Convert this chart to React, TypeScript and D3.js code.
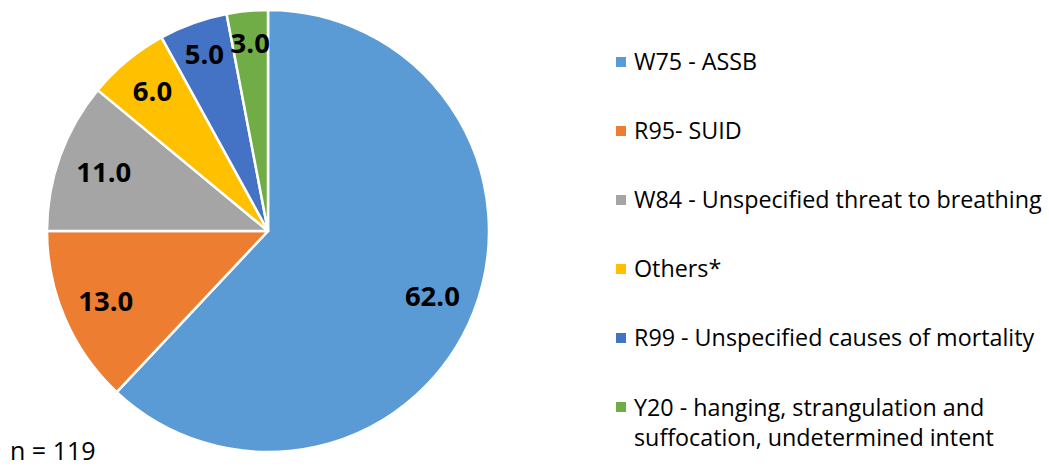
import React from 'react';
import * as d3 from 'd3';

const categories = [
  'W75 - ASSB',
  'R95- SUID',
  'W84 - Unspecified threat to breathing',
  'Others*',
  'R99 - Unspecified causes of mortality',
  'Y20 - hanging, strangulation and suffocation, undetermined intent',
];
const values = [62.0, 13.0, 11.0, 6.0, 5.0, 3.0];
const colors = ['#5B9BD5', '#ED7D31', '#A5A5A5', '#FFC000', '#4472C4', '#70AD47'];
const legendLines = [
  ['W75 - ASSB'],
  ['R95- SUID'],
  ['W84 - Unspecified threat to breathing'],
  ['Others*'],
  ['R99 - Unspecified causes of mortality'],
  ['Y20 - hanging, strangulation and', 'suffocation, undetermined intent'],
];
const totalN = 119;

// label distance from centre as share of radius (excel "best fit" look)
const labelRadius = [0.8, 0.8, 0.79, 0.82, 0.85, 0.855];

const W = 1049, H = 467;
const cx = 268, cy = 231, R = 221;
const font = '"Open Sans", Lato, sans-serif';

const App = () => {
  const pie = d3.pie<number>().sort(null).value(d => d);
  const arcs = pie(values);
  const arc = d3.arc<d3.PieArcDatum<number>>().innerRadius(0).outerRadius(R);

  const legendY = d3.scaleLinear().domain([0, 5]).range([62, 407]);

  return (
    <svg width={W} height={H} style={{ position: 'absolute', left: 0, top: 0, fontFamily: font }}>
      <rect width={W} height={H} fill="#fff" />
      <g transform={`translate(${cx},${cy})`}>
        {arcs.map((a, i) => (
          <path key={categories[i]} d={arc(a) || ''} fill={colors[i]} stroke="#fff" strokeWidth={2.5} strokeLinejoin="round" />
        ))}
        {arcs.map((a, i) => {
          const mid = (a.startAngle + a.endAngle) / 2;
          const r = R * labelRadius[i];
          return (
            <text key={'l' + i} x={Math.sin(mid) * r} y={-Math.cos(mid) * r} dy="0.36em"
              textAnchor="middle" fontSize={27.5} fontWeight="bold" fill="#000">
              {d3.format('.1f')(values[i])}
            </text>
          );
        })}
      </g>
      {legendLines.map((lines, i) => (
        <g key={'g' + i} transform={`translate(616,${legendY(i)})`}>
          <rect x={0} y={-5} width={10} height={10} fill={colors[i]} />
          {lines.map((t, j) => (
            <text key={j} x={18} y={j * 29.5 + (lines.length > 1 ? 1 : 0)} dy="0.36em" fontSize={23.3} fill="#000">{t}</text>
          ))}
        </g>
      ))}
      <text x={10} y={460} fontSize={25} fill="#000">n = {totalN}</text>
    </svg>
  );
};

export default App;
